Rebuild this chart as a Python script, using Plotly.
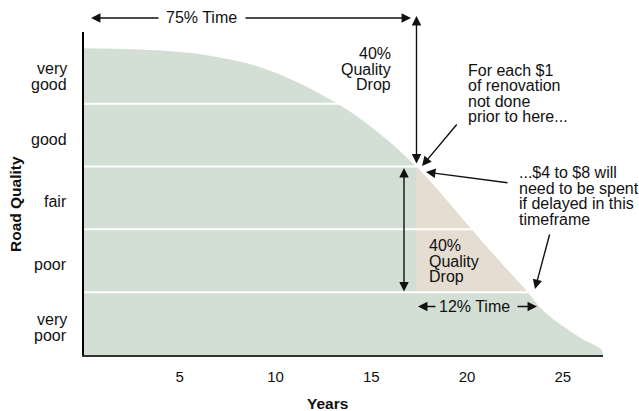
import plotly.graph_objects as go

# Road deterioration curve: quality index (0 = failed, 5 = new) against age in years
years = [0, 1, 2, 3, 4, 5, 6, 7, 8, 9, 10, 11, 12, 13, 14, 15, 16, 17, 17.35,
         18, 19, 20, 21, 22, 23.16, 24, 25, 26, 27, 27.1]
quality = [4.88, 4.877, 4.87, 4.86, 4.845, 4.82, 4.79, 4.74, 4.68, 4.60, 4.49,
           4.36, 4.21, 4.04, 3.85, 3.63, 3.38, 3.10, 3.00,
           2.79, 2.44, 2.08, 1.73, 1.39, 1.00, 0.70, 0.46, 0.26, 0.09, 0.0]

quality_levels = ["very poor", "poor", "fair", "good", "very good"]
grid_levels = [1, 2, 3, 4]
year_ticks = [5, 10, 15, 20, 25]

# band of accelerated decline: from "fair/good" boundary down to "poor/very poor"
drop_top, drop_bottom = 3, 1

GREEN = "#d3dfd5"
TAN = "#e5ddd1"
INK = "#111111"
FONT = "Liberation Sans, Arial, Helvetica, sans-serif"
SIZE = 16
LEAD = 15.6

W, H = 639, 411
M = dict(l=84, r=36, t=32, b=56)
PW = W - M["l"] - M["r"]
PH = H - M["t"] - M["b"]
X_RANGE = [0, 27.1]
Y_RANGE = [0, 5.14]


def paper_x(px):
    return (px - M["l"]) / PW


def paper_y(py):
    return (H - M["b"] - py) / PH


fig = go.Figure()

# overall condition curve
fig.add_trace(go.Scatter(
    x=years, y=quality, mode="lines",
    line=dict(color=GREEN, width=0, shape="spline"),
    fill="tozeroy", fillcolor=GREEN, hoverinfo="skip", showlegend=False,
))

# accelerated-decline wedge between the two quality thresholds
i0 = next(i for i, q in enumerate(quality) if q <= drop_top)
i1 = next(i for i, q in enumerate(quality) if q <= drop_bottom)
fig.add_trace(go.Scatter(
    x=[years[i0], years[i1]], y=[drop_bottom, drop_bottom], mode="lines",
    line=dict(width=0), hoverinfo="skip", showlegend=False,
))
fig.add_trace(go.Scatter(
    x=years[i0:i1 + 1], y=quality[i0:i1 + 1], mode="lines",
    line=dict(color=TAN, width=0, shape="spline"),
    fill="tonexty", fillcolor=TAN, hoverinfo="skip", showlegend=False,
))

# white band separators
for g in grid_levels:
    fig.add_trace(go.Scatter(
        x=X_RANGE, y=[g, g], mode="lines",
        line=dict(color="white", width=2), hoverinfo="skip", showlegend=False,
    ))


def text_line(txt, x_px, y_px, anchor, size=SIZE, bold=False, angle=0):
    fig.add_annotation(
        x=paper_x(x_px), y=paper_y(y_px), xref="paper", yref="paper",
        text=f"<b>{txt}</b>" if bold else txt, showarrow=False,
        xanchor=anchor, yanchor="middle", textangle=angle,
        font=dict(family=FONT, size=size, color=INK),
    )


def text_block(lines, x_px, y_first, anchor):
    for k, ln in enumerate(lines):
        text_line(ln, x_px, y_first + k * LEAD, anchor)


def arrow(tip, tail, both=False):
    fig.add_annotation(
        x=paper_x(tip[0]), y=paper_y(tip[1]), xref="paper", yref="paper",
        ax=tail[0] - tip[0], ay=tail[1] - tip[1], axref="pixel", ayref="pixel",
        text="", showarrow=True, arrowhead=2, arrowsize=1.35, arrowwidth=1.4,
        arrowcolor=INK, arrowside="end+start" if both else "end",
    )


# quality category labels, centred in their bands
band_px = PH / (Y_RANGE[1] - Y_RANGE[0])
for i, name in enumerate(quality_levels):
    parts = name.split(" ")
    centre = H - M["b"] - (i + 0.5) * band_px + 4
    first = centre - (len(parts) - 1) * LEAD / 2
    text_block(parts, 69, first, "right")

# axis titles
text_line("Years", 327, 403, "center", size=15.5, bold=True)
text_line("Road Quality", 16, 204, "center", size=15.5, bold=True, angle=-90)

# 75% time span
arrow((91, 18), (160, 18))
arrow((411, 18), (244, 18))
text_line("75% Time", 201, 18, "center")

# first 40% quality drop
arrow((416.5, 16), (416.5, 165), both=True)
text_block(["40%", "Quality", "Drop"], 393, 53.5, "right")

text_block(["For each $1", "of renovation", "not done", "prior to here..."], 466, 70, "left")
arrow((422, 166), (458, 123))

text_block(["...$4 to $8 will", "need to be spent", "if delayed in this", "timeframe"], 517, 172.5, "left")
arrow((426, 172), (509, 183))
arrow((535, 289), (550, 233))

# second 40% quality drop
arrow((404, 168), (404, 293), both=True)
text_block(["40%", "Quality", "Drop"], 427, 245.5, "left")

# 12% time span
arrow((418, 306.5), (437, 306.5))
arrow((537, 306.5), (516, 306.5))
text_line("12% Time", 474, 306.5, "center")

fig.update_layout(
    width=W, height=H, margin=M,
    paper_bgcolor="white", plot_bgcolor="white",
    font=dict(family=FONT, size=SIZE, color=INK),
    showlegend=False,
)
fig.update_xaxes(
    range=X_RANGE, showgrid=False, zeroline=False,
    showline=True, linecolor="#333333", linewidth=2,
    tickvals=year_ticks, ticks="", ticklabelstandoff=7,
    tickfont=dict(family=FONT, size=15, color=INK),
    layer="above traces", fixedrange=True,
)
fig.update_yaxes(
    range=Y_RANGE, showgrid=False, zeroline=False,
    showline=True, linecolor="#000000", linewidth=1.5,
    showticklabels=False, ticks="",
    layer="above traces", fixedrange=True,
)

fig.write_html("out.html", config={"displayModeBar": False})
